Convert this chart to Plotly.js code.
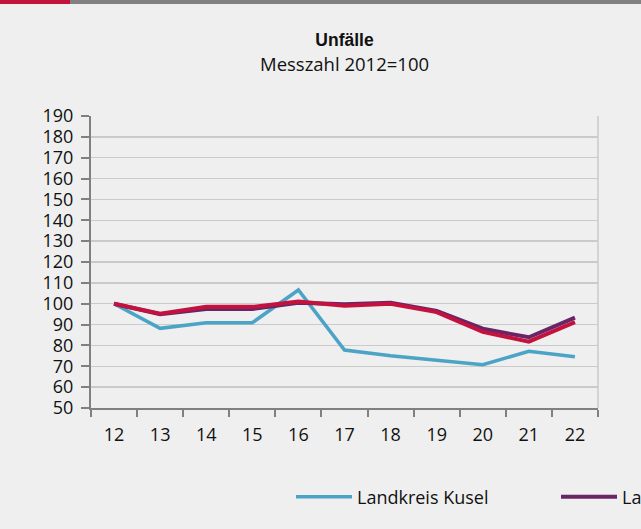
<!DOCTYPE html>
<html>
<head>
<meta charset="utf-8">
<script src="https://cdn.plot.ly/plotly-3.0.1.min.js"></script>
<style>
html,body{margin:0;padding:0;background:#eeefee;}
#chart{width:641px;height:529px;}
</style>
</head>
<body>
<div id="chart"></div>
<script>
var years = ['12','13','14','15','16','17','18','19','20','21','22'];
var kusel = [100, 88.2, 90.9, 90.9, 106.6, 77.8, 75, 72.7, 70.8, 77.2, 74.6];
var land = [100, 95, 97.5, 97.5, 100.5, 99.8, 100.5, 96.5, 88, 83.9, 93.3];
var dritte = [100, 95.2, 98.5, 98.5, 101, 99, 100, 96, 86.5, 81.8, 91.2];
var names = ['Landkreis Kusel', 'Land Rheinland-Pfalz', 'Deutschland'];
var colors = ['#4ba3c6', '#692565', '#c4123f'];
var yTicks = [50,60,70,80,90,100,110,120,130,140,150,160,170,180,190];
var titleText = 'Unfälle';
var subtitleText = 'Messzahl 2012=100';

var font = 'Open Sans, Noto Sans, sans-serif';
var traces = [
  {x: years, y: kusel, name: names[0], type: 'scatter', mode: 'lines', line: {color: colors[0], width: 3.5}, legend: 'legend'},
  {x: years, y: land, name: names[1], type: 'scatter', mode: 'lines', line: {color: colors[1], width: 4}, legend: 'legend2'},
  {x: years, y: dritte, name: names[2], type: 'scatter', mode: 'lines', line: {color: colors[2], width: 4}, legend: 'legend3'}
];

// plot area: x 91..598 (507px), y 116..408 (292px)
function px(x) { return (x - 91) / 507; }
function py(y) { return (408 - y) / 292; }

var legBase = {orientation: 'h', xref: 'paper', yref: 'paper', yanchor: 'middle', xanchor: 'left',
  bgcolor: 'rgba(0,0,0,0)', font: {family: font, size: 18, color: '#111'}, itemwidth: 56};

var layout = {
  width: 641, height: 529,
  paper_bgcolor: '#eeefee', plot_bgcolor: '#eeefee',
  margin: {l: 91, r: 43, t: 116, b: 121, autoexpand: false},
  showlegend: true,
  title: {
    text: '<b>' + titleText + '</b>', xref: 'paper', x: 0.5, xanchor: 'center', yref: 'container', y: 1 - 40/529, yanchor: 'middle',
    font: {family: 'Liberation Sans, Arial, sans-serif', size: 17.5, color: '#111'}
  },
  annotations: [
    {text: subtitleText, xref: 'paper', yref: 'paper', x: 0.5, y: py(63), xanchor: 'center', yanchor: 'middle',
     showarrow: false, font: {family: font, size: 18.5, color: '#111'}}
  ],
  xaxis: {
    type: 'category', tickmode: 'array', tickvals: years, ticktext: years,
    tickson: 'boundaries', ticks: 'outside', ticklen: 7, tickwidth: 2, tickcolor: '#808080',
    showline: true, linecolor: '#808080', linewidth: 2, showgrid: false,
    tickfont: {family: font, size: 18, color: '#111'}, ticklabelstandoff: 9,
    range: [-0.5, 10.5], fixedrange: true
  },
  yaxis: {
    range: [50, 190], tickmode: 'array', tickvals: yTicks,
    ticks: 'outside', ticklen: 8, tickwidth: 2, tickcolor: '#808080',
    showline: true, linecolor: '#808080', linewidth: 2,
    showgrid: true, gridcolor: '#c9caca', gridwidth: 1.5, zeroline: false,
    tickfont: {family: font, size: 18, color: '#111'}, ticklabelstandoff: 4
  },
  shapes: [
    {type: 'rect', xref: 'paper', yref: 'paper', x0: px(0), x1: px(70), y0: py(4), y1: py(0), layer: 'above', line: {width: 0}, fillcolor: '#c4123f'},
    {type: 'rect', xref: 'paper', yref: 'paper', x0: px(70), x1: px(641), y0: py(4), y1: py(0), layer: 'above', line: {width: 0}, fillcolor: '#808080'},
    {type: 'line', xref: 'paper', yref: 'paper', x0: 1, x1: 1, y0: 0, y1: 1, line: {color: '#c9caca', width: 1.5}}
  ],
  legend: Object.assign({}, legBase, {x: px(291), y: py(497)}),
  legend2: Object.assign({}, legBase, {x: px(556), y: py(497)}),
  legend3: Object.assign({}, legBase, {x: px(800), y: py(497)})
};

Plotly.newPlot('chart', traces, layout, {displayModeBar: false, staticPlot: true});
</script>
</body>
</html>
